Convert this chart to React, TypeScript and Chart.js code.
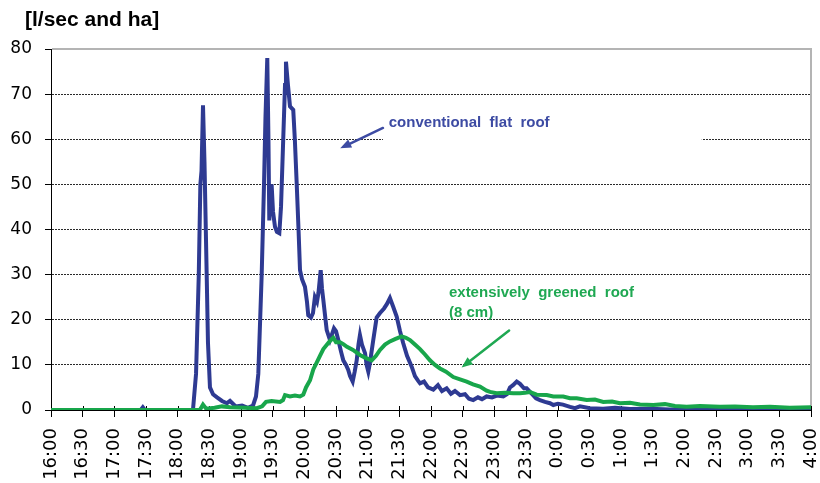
import React, { useEffect, useRef } from "react";
import { Chart, registerables } from "chart.js";

Chart.register(...registerables);

// ---- axis definitions ----
const startHour = 16; // x = minutes after 16:00
const spanMinutes = 720;
const tickStepMinutes = 30;
const yMin = 0;
const yMax = 80;
const yStep = 10;
const yAxisTitle = "[l/sec and ha]";

// ---- conventional flat roof (minutes after 16:00, l/sec and ha) ----
const conventionalMinutes = [
  0, 60, 85, 87, 89, 120, 134.5, 137.4, 140, 141.5, 142.6, 144, 145.4, 147.5, 148.7, 150.6, 153.5, 157.3, 162,
  166.7, 169.6, 175, 181, 186.6, 191.4, 194.2, 196.4, 199.6, 201.8, 203.2, 204.9, 206, 206.8, 208, 209,
  210.3, 212.2, 214, 216.3, 217.9, 220, 221.7, 222.6, 224.5, 226.4, 229.5, 231, 232.8, 234.5, 235.9,
  237.8, 240.6, 242.5, 243.7, 246.3, 248.2, 250, 252, 253.4, 255.5, 256.7, 258, 259.6, 261.2, 264.3,
  268.1, 270, 272.2, 274.7, 276.9, 279.5, 281.6, 283.3, 285.8, 287.7, 289.6, 291.3, 292.7, 294.6, 297.5,
  299, 300.6, 302.2, 305.3, 308.5, 311.7, 315.5, 318.3, 321.1, 324, 327.5, 330.6, 333.7, 337.3, 341.7,
  344.8, 347.7, 349.6, 353.4, 357.2, 362.2, 366.6, 370.4, 374.8, 378.9, 382.7, 387.5, 392.2, 396, 400,
  404.5, 408.3, 412.7, 417.8, 422.5, 428.5, 432, 434.8, 437.7, 441.2, 444.3, 448.1, 450.6, 454.7, 459.5,
  463.2, 468, 472.7, 475.9, 480.3, 485, 491.7, 496.4, 501.1, 510.6, 523, 534.3, 548.5, 567.5, 586.4,
  614.8, 643, 671.7, 700, 720,
];
const conventionalValues = [
  0, 0, 0, 0.6, 0, 0, 0, 8, 30, 50, 53, 67.5, 55, 30, 15, 5, 3.5, 2.8, 2,
  1.5, 2, 0.8, 1, 0.5, 1, 3, 8, 30, 50, 65, 78, 60, 42, 48, 50,
  44, 40.6, 39.5, 39.2, 45, 60, 72, 77.2, 72, 67.3, 66.5, 60, 50, 40, 31,
  29, 27.3, 24, 21, 20.5, 21.5, 25, 24, 26, 31, 27, 24.4, 21, 17.7, 15.5,
  18.1, 17.5, 15.5, 13, 11, 10, 8.9, 7.5, 6.3, 8.5, 11, 14.5, 16.6, 14.5, 12.6,
  10, 8.5, 10.5, 15.5, 20.5, 21.5, 22.5, 23.5, 24.8, 23, 20.7, 17.5, 14.8, 12, 9.6,
  7.5, 6.5, 5.9, 6.3, 5, 4.5, 5.5, 4.2, 4.8, 3.6, 4.2, 3.3, 3.5, 2.5, 2.2,
  2.8, 2.4, 3, 2.8, 3.2, 3, 3.5, 5, 5.5, 6.3, 5.8, 4.8, 4.8, 3.8, 2.6,
  2.2, 1.8, 1.5, 1.1, 1.4, 1.2, 0.7, 0.4, 0.8, 0.4, 0.3, 0.5, 0.2, 0.3, 0.1,
  0.3, 0.2, 0.3, 0.1, 0.2,
];

// ---- extensively greened roof (8 cm) ----
const greenedMinutes = [
  0, 141, 144, 147, 155, 162, 169.6, 183.8, 195, 200, 203.7, 209, 217, 219.8, 221.7, 226.4, 231.1, 235.9,
  239, 241.6, 245.4, 248.5, 251.7, 254.8, 258, 261.5, 264.3, 267.4, 270, 273.8, 276.9, 280.4, 286.1,
  292.7, 298.4, 303.8, 307.9, 311.7, 316.4, 321.1, 325.9, 332.2, 336.3, 340.1, 344.8, 349.6, 354.3, 359,
  363.8, 368.5, 374.2, 381.1, 387.5, 393.8, 399.8, 406.4, 412.7, 415.9, 422.2, 430, 438, 444.3, 449,
  453.8, 460.1, 469.6, 475.9, 485.3, 491.7, 498, 507.5, 515.3, 523.2, 531.5, 539, 548.5, 558, 570.6,
  581.7, 591.1, 602.2, 614.8, 633.8, 648, 665, 681.1, 700, 720,
];
const greenedValues = [
  0, 0, 1.2, 0.3, 0.5, 0.8, 0.6, 0.5, 0.4, 0.8, 1.8, 2, 1.8, 2.2, 3.3, 3, 3.2, 3,
  3.4, 5, 6.6, 9, 10.5, 12, 13.5, 14.5, 15.3, 16, 15, 15, 14.6, 14, 13.3,
  12.2, 11.5, 11, 12, 13.3, 14.5, 15.2, 15.7, 16.3, 16, 15.5, 14.5, 13.5, 12.3, 11,
  10, 9.2, 8.5, 7.3, 6.8, 6.3, 5.7, 5.2, 4.3, 4, 3.7, 3.8, 3.7, 3.7, 3.8,
  4, 3.4, 3.3, 3, 3, 2.6, 2.6, 2.2, 2.3, 1.8, 1.9, 1.5, 1.6, 1.2, 1.1,
  1.3, 0.9, 0.7, 0.9, 0.7, 0.8, 0.6, 0.7, 0.5, 0.6,
];

// ---- annotation texts ----
const conventionalLabel = "conventional  flat  roof";
const greenedLabelLines = ["extensively  greened  roof", "(8 cm)"];

const BLUE = "#2e3a92";
const BLUE_TEXT = "#3d4ba3";
const GREEN = "#18a64b";
const GREEN_TEXT = "#1fa852";

function formatTime(v: number): string {
  const total = (startHour * 60 + v) % 1440;
  const h = Math.floor(total / 60);
  const m = Math.round(total % 60);
  return `${h}:${m < 10 ? "0" + m : m}`;
}

function drawArrow(ctx: CanvasRenderingContext2D, x1: number, y1: number, x2: number, y2: number, color: string) {
  const ang = Math.atan2(y2 - y1, x2 - x1);
  const headLen = 11;
  const headHalf = 4.5;
  const bx = x2 - headLen * Math.cos(ang);
  const by = y2 - headLen * Math.sin(ang);
  ctx.save();
  ctx.strokeStyle = color;
  ctx.fillStyle = color;
  ctx.lineWidth = 2.5;
  ctx.lineCap = "round";
  ctx.beginPath();
  ctx.moveTo(x1, y1);
  ctx.lineTo(bx, by);
  ctx.stroke();
  ctx.beginPath();
  ctx.moveTo(x2, y2);
  ctx.lineTo(bx + headHalf * Math.sin(ang), by - headHalf * Math.cos(ang));
  ctx.lineTo(bx - headHalf * Math.sin(ang), by + headHalf * Math.cos(ang));
  ctx.closePath();
  ctx.fill();
  ctx.restore();
}

const decorPlugin = {
  id: "decor",
  beforeDatasetsDraw(chart: any) {
    const { ctx, chartArea, scales } = chart;
    const x = scales.x;
    const y = scales.y;
    ctx.save();
    // white box behind the "conventional flat roof" label (hides part of a grid line)
    const bx1 = x.getPixelForValue(314.5);
    const bx2 = x.getPixelForValue(616.5);
    const by1 = y.getPixelForValue(67);
    const by2 = y.getPixelForValue(58.5);
    ctx.fillStyle = "#ffffff";
    ctx.fillRect(bx1, by1, bx2 - bx1, by2 - by1);
    // grey top/right frame
    ctx.strokeStyle = "#b4b4b4";
    ctx.lineWidth = 2;
    ctx.beginPath();
    ctx.moveTo(chartArea.left + 1, chartArea.top);
    ctx.lineTo(chartArea.right, chartArea.top);
    ctx.lineTo(chartArea.right, chartArea.bottom);
    ctx.stroke();
    // x tick stubs poking slightly above the axis line
    ctx.strokeStyle = "#000000";
    ctx.lineWidth = 1;
    ctx.beginPath();
    x.ticks.forEach((t: any) => {
      const px = Math.round(x.getPixelForValue(t.value)) + 0.5;
      ctx.moveTo(px, chartArea.bottom - 4);
      ctx.lineTo(px, chartArea.bottom);
    });
    ctx.stroke();
    ctx.restore();
  },
  afterDatasetsDraw(chart: any) {
    const { ctx, chartArea, scales } = chart;
    const x = scales.x;
    const y = scales.y;
    ctx.save();
    ctx.textBaseline = "middle";
    ctx.textAlign = "left";
    // conventional
    ctx.font = 'bold 15px "Liberation Sans", Arial, sans-serif';
    ctx.fillStyle = BLUE_TEXT;
    ctx.fillText(conventionalLabel, x.getPixelForValue(320), y.getPixelForValue(63.6));
    drawArrow(ctx, x.getPixelForValue(314.5), y.getPixelForValue(62.5), x.getPixelForValue(274), y.getPixelForValue(58), BLUE_TEXT);
    // greened
    ctx.fillStyle = GREEN_TEXT;
    ctx.fillText(greenedLabelLines[0], x.getPixelForValue(377), y.getPixelForValue(26));
    ctx.fillText(greenedLabelLines[1], x.getPixelForValue(377), y.getPixelForValue(21.6));
    drawArrow(ctx, x.getPixelForValue(434), y.getPixelForValue(17.6), x.getPixelForValue(389), y.getPixelForValue(9.4), GREEN_TEXT);
    // axis title
    ctx.fillStyle = "#000000";
    ctx.font = 'bold 21px "Liberation Sans", Arial, sans-serif';
    ctx.fillText(yAxisTitle, chartArea.left - 26, 20);
    ctx.restore();
  },
};

export default function App() {
  const canvasRef = useRef<HTMLCanvasElement | null>(null);

  useEffect(() => {
    const canvas = canvasRef.current;
    if (!canvas) return;
    const chart = new Chart(canvas, {
      type: "line",
      data: {
        datasets: [
          {
            label: "extensively greened roof (8 cm)",
            data: greenedMinutes.map((m, i) => ({ x: m, y: greenedValues[i] })),
            borderColor: GREEN,
            borderWidth: 4,
            pointRadius: 0,
            tension: 0,
            fill: false,
          },
          {
            label: "conventional flat roof",
            data: conventionalMinutes.map((m, i) => ({ x: m, y: conventionalValues[i] })),
            borderColor: BLUE,
            borderWidth: 4,
            pointRadius: 0,
            tension: 0,
            fill: false,
          },
        ],
      },
      options: {
        responsive: false,
        animation: false,
        events: [],
        layout: { padding: { top: 49, right: 9, left: 0, bottom: 0 } },
        plugins: {
          legend: { display: false },
          tooltip: { enabled: false },
          title: { display: false },
        },
        scales: {
          x: {
            type: "linear",
            min: 0,
            max: spanMinutes,
            afterFit: (s: any) => {
              s.height = 73;
              s.paddingLeft = 0;
              s.paddingRight = 0;
            },
            ticks: {
              stepSize: tickStepMinutes,
              autoSkip: false,
              minRotation: 90,
              maxRotation: 90,
              padding: 11,
              color: "#000000",
              font: { family: '"DejaVu Sans"', size: 18 },
              callback: (v: any) => formatTime(Number(v)),
            },
            grid: {
              drawOnChartArea: false,
              drawTicks: true,
              tickLength: 7,
              color: "#000000",
              lineWidth: 1,
            },
            border: { display: true, color: "#000000", width: 1 },
          },
          y: {
            min: yMin,
            max: yMax,
            afterFit: (s: any) => {
              s.width = 51;
              s.paddingTop = 0;
              s.paddingBottom = 0;
            },
            ticks: {
              stepSize: yStep,
              padding: 13,
              color: "#000000",
              font: { family: '"DejaVu Sans"', size: 17 },
            },
            grid: {
              color: (c: any) =>
                c.tick && (c.tick.value === yMax || c.tick.value === yMin) ? "rgba(0,0,0,0)" : "#2a2a2a",
              tickColor: "#000000",
              tickLength: 6,
              lineWidth: 1,
            },
            border: { display: true, color: "#000000", width: 1, dash: [2, 1] },
          },
        },
      },
      plugins: [decorPlugin],
    });
    return () => chart.destroy();
  }, []);

  return (
    <div style={{ position: "fixed", left: 0, top: 0, width: 820, height: 483, background: "#ffffff" }}>
      <canvas ref={canvasRef} width={820} height={483} style={{ display: "block" }} />
    </div>
  );
}
